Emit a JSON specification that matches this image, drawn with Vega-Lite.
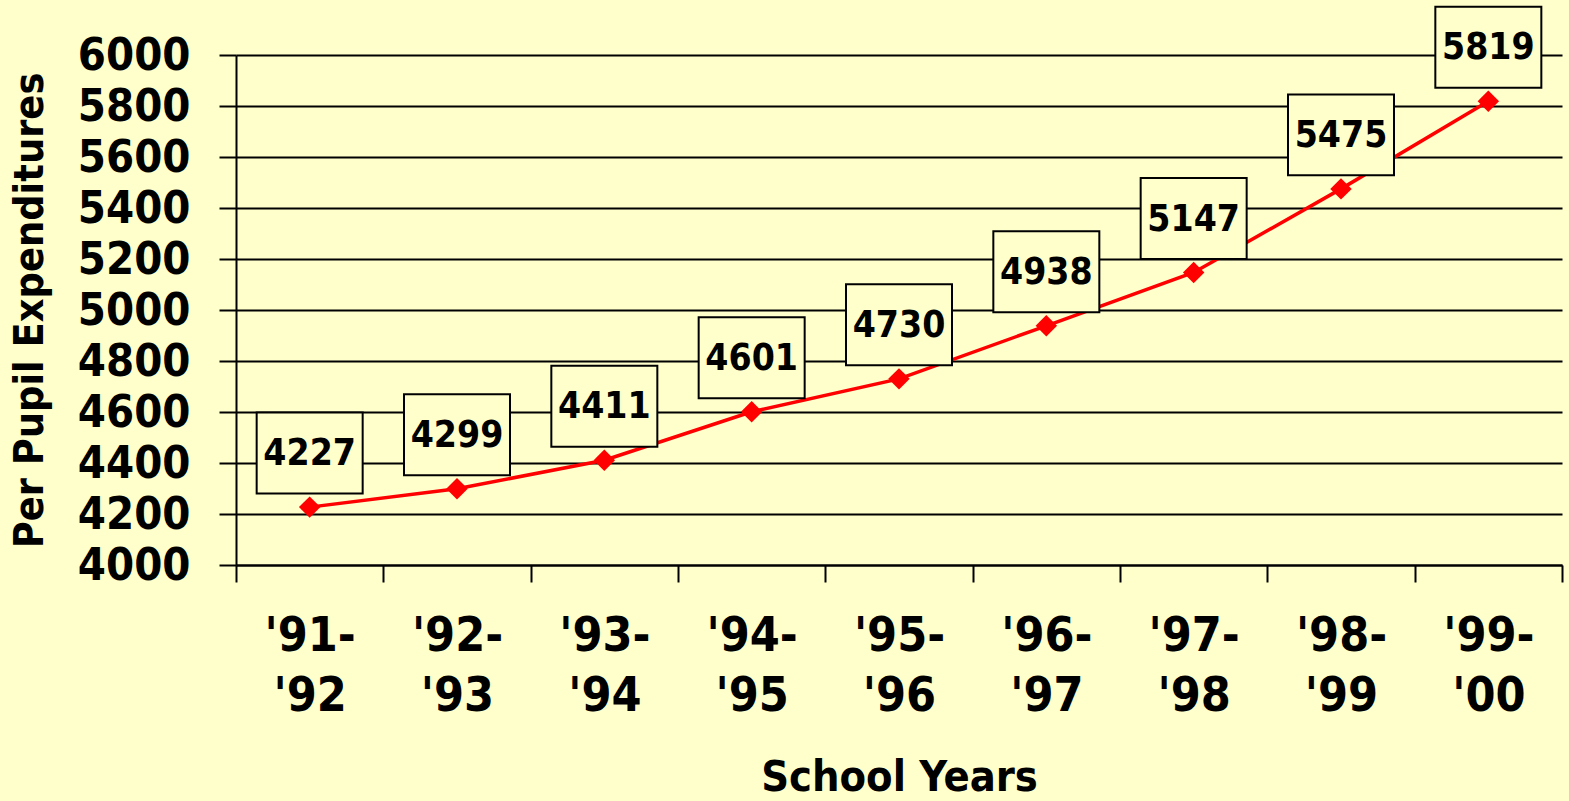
{
  "$schema": "https://vega.github.io/schema/vega-lite/v6.json",
  "width": 1326,
  "height": 510,
  "autosize": {"type": "none"},
  "padding": {"left": 236, "top": 55, "right": 7, "bottom": 236},
  "background": "#FFFFCC",
  "config": {
    "view": {"stroke": null},
    "font": "DejaVu Sans Condensed",
    "axis": {"labelFont": "DejaVu Sans Condensed", "titleFont": "DejaVu Sans Condensed"}
  },
  "data": {
    "values": [
      {"year": "'91- '92", "value": 4227},
      {"year": "'92- '93", "value": 4299},
      {"year": "'93- '94", "value": 4411},
      {"year": "'94- '95", "value": 4601},
      {"year": "'95- '96", "value": 4730},
      {"year": "'96- '97", "value": 4938},
      {"year": "'97- '98", "value": 5147},
      {"year": "'98- '99", "value": 5475},
      {"year": "'99- '00", "value": 5819}
    ]
  },
  "encoding": {
    "x": {
      "field": "year",
      "type": "ordinal",
      "sort": null,
      "scale": {"paddingInner": 0, "paddingOuter": 0},
      "axis": {
        "title": "School Years",
        "titleFontSize": 43,
        "titleFontWeight": "bold",
        "titleColor": "black",
        "titlePadding": 36,
        "labelAngle": 0,
        "labelExpr": "split(datum.label, ' ')",
        "labelFontSize": 48,
        "labelFontWeight": "bold",
        "labelColor": "black",
        "labelLineHeight": 60,
        "labelPadding": 30,
        "labelBaseline": "top",
        "labelOverlap": false,
        "tickBand": "extent",
        "tickSize": 17,
        "tickColor": "black",
        "tickWidth": 2,
        "domainColor": "black",
        "domainWidth": 2,
        "grid": false
      }
    },
    "y": {
      "field": "value",
      "type": "quantitative",
      "scale": {"domain": [4000, 6000], "nice": false, "zero": false},
      "axis": {
        "title": "Per Pupil Expenditures",
        "titleFontSize": 41,
        "titleFontWeight": "bold",
        "titleColor": "black",
        "titlePadding": 26,
        "values": [4000, 4200, 4400, 4600, 4800, 5000, 5200, 5400, 5600, 5800, 6000],
        "format": "d",
        "labelOverlap": false,
        "labelFontSize": 45,
        "labelFontWeight": "bold",
        "labelColor": "black",
        "labelPadding": 29,
        "tickSize": 17,
        "tickColor": "black",
        "tickWidth": 2,
        "domainColor": "black",
        "domainWidth": 2,
        "grid": true,
        "gridColor": "black",
        "gridWidth": 2,
        "gridOpacity": 1
      }
    }
  },
  "layer": [
    {
      "mark": {"type": "line", "color": "#FF0000", "strokeWidth": 3.5}
    },
    {
      "mark": {"type": "point", "shape": "diamond", "filled": true, "color": "#FF0000", "size": 460, "opacity": 1}
    },
    {
      "mark": {
        "type": "point",
        "shape": "M-1,-0.764L1,-0.764L1,0.764L-1,0.764Z",
        "size": 11236,
        "filled": true,
        "fill": "#FFFFCC",
        "stroke": "black",
        "strokeWidth": 2,
        "opacity": 1,
        "fillOpacity": 1,
        "yOffset": -54
      }
    },
    {
      "mark": {
        "type": "text",
        "font": "DejaVu Sans Condensed",
        "fontSize": 37,
        "fontWeight": "bold",
        "color": "black",
        "baseline": "middle",
        "align": "center",
        "yOffset": -53
      },
      "encoding": {"text": {"field": "value", "type": "quantitative", "format": "d"}}
    }
  ]
}
